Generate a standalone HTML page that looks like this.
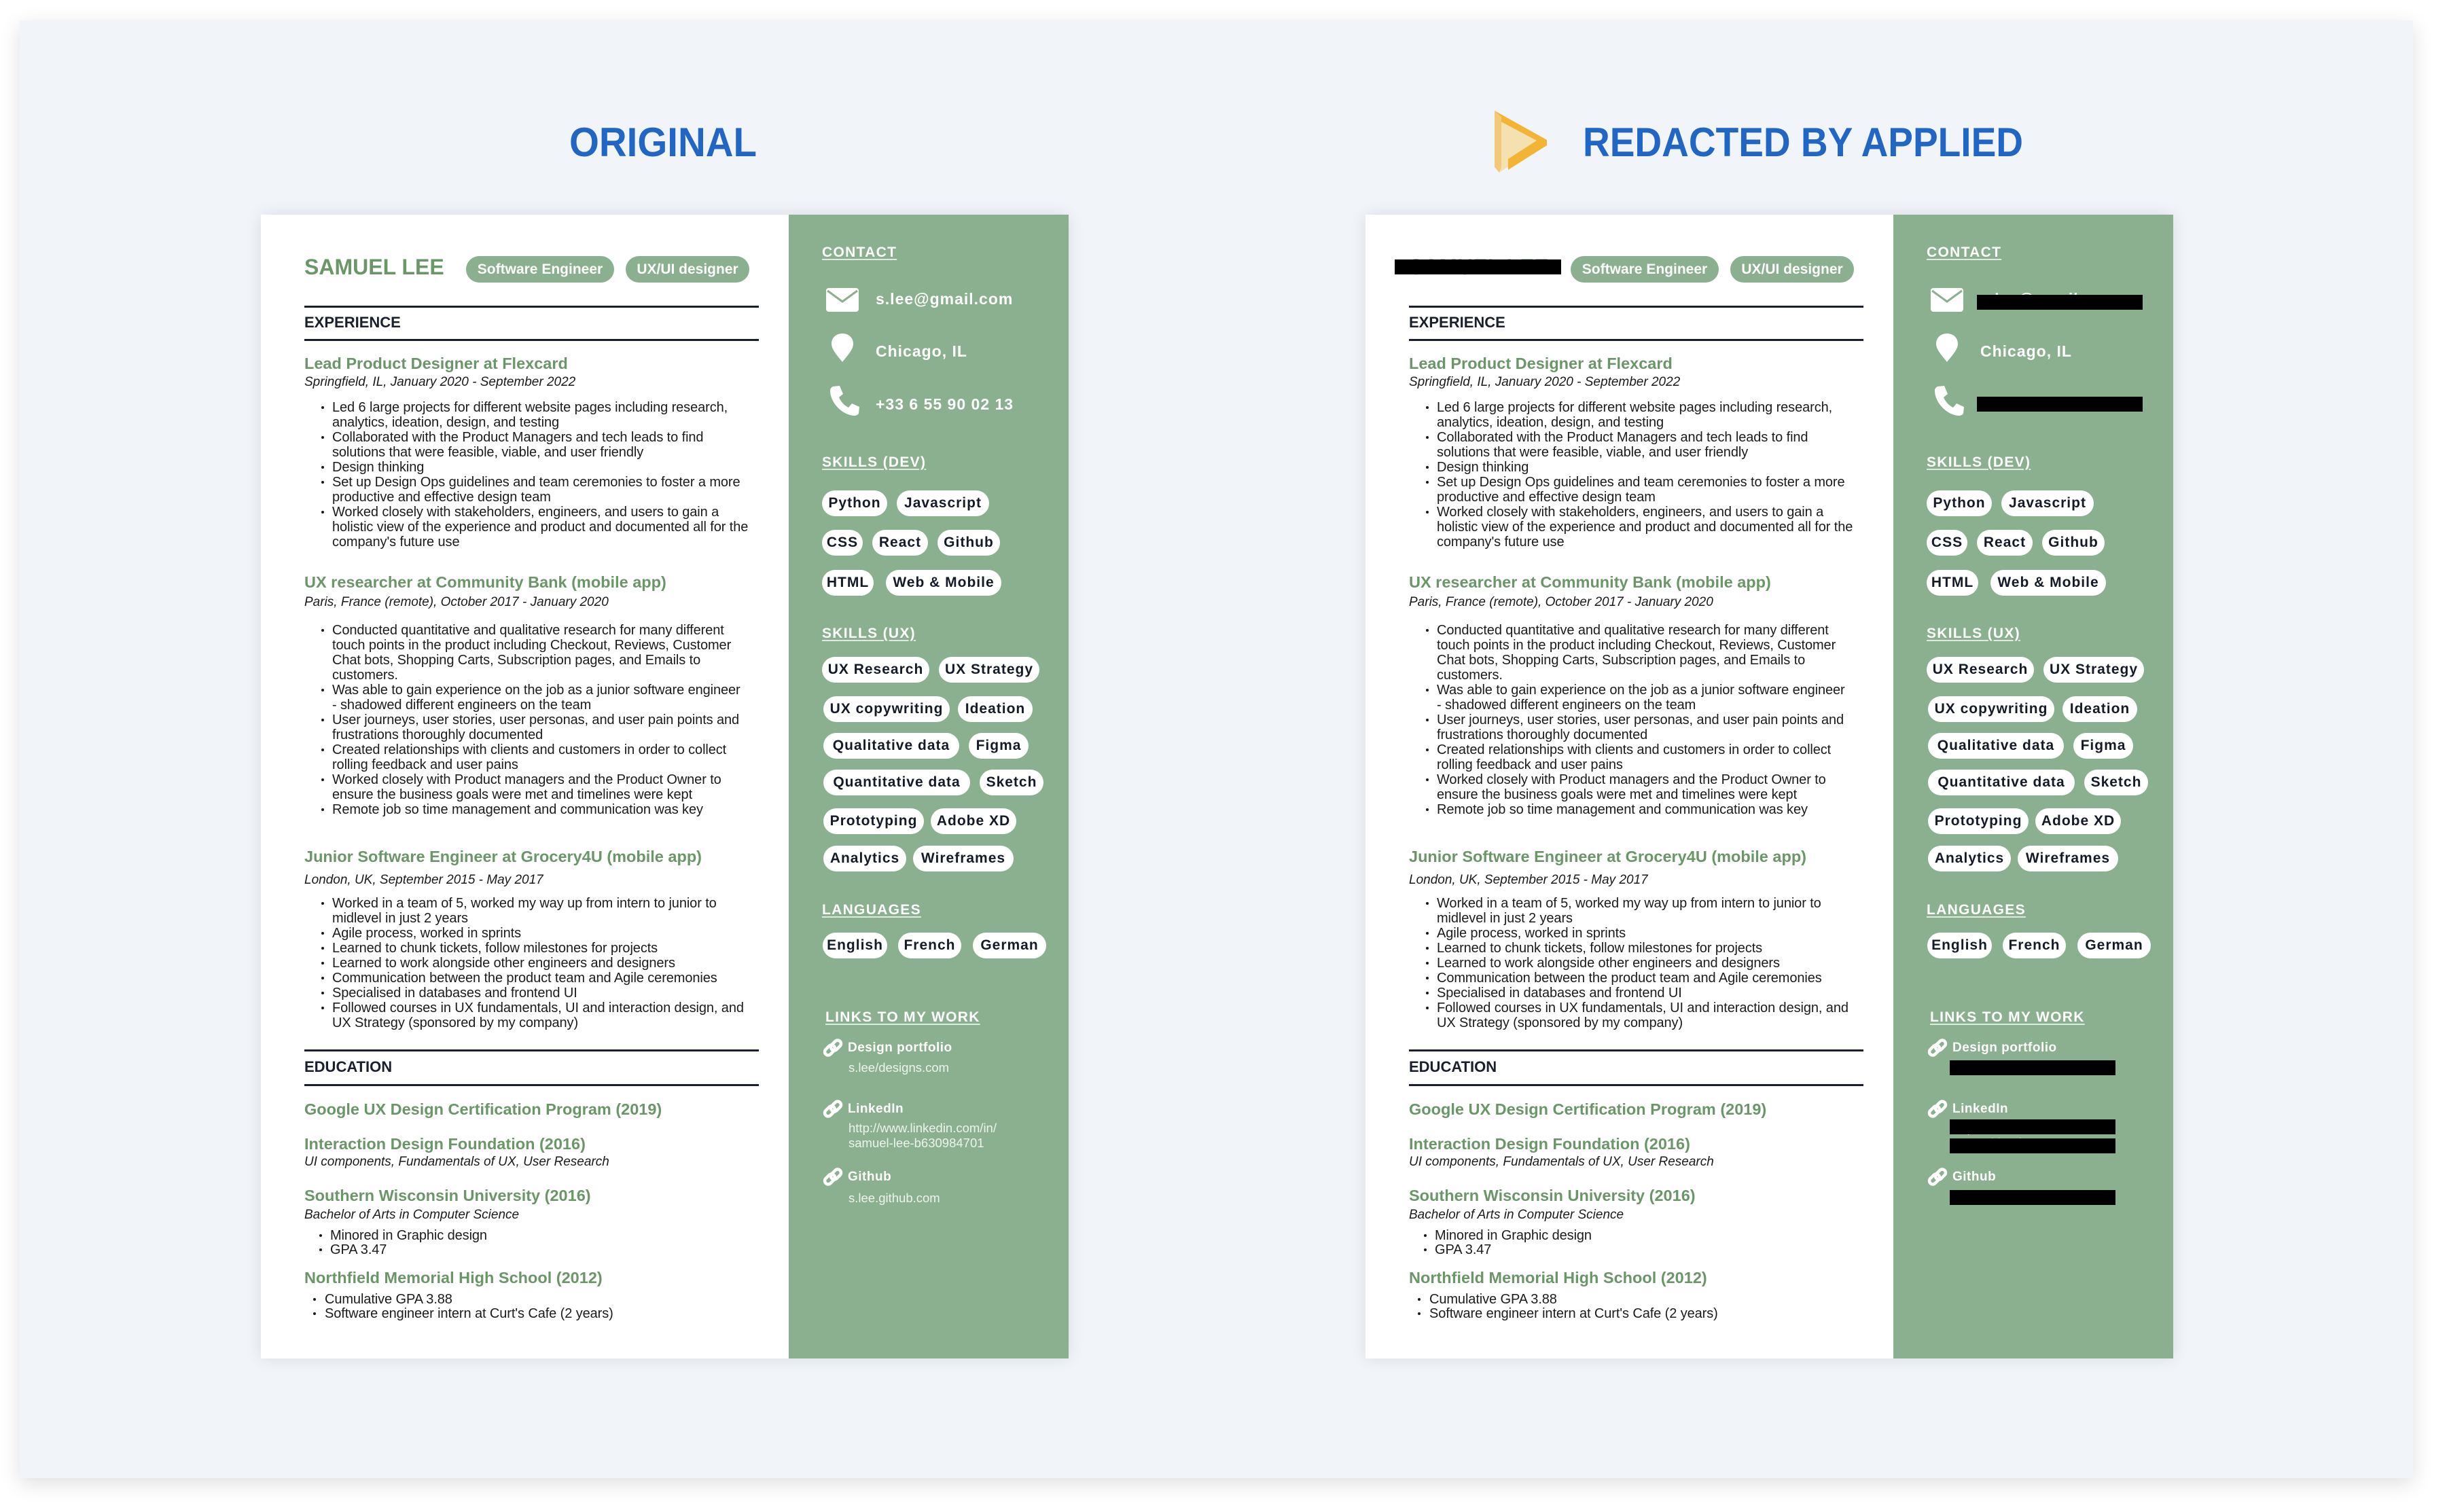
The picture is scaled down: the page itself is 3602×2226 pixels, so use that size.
<!DOCTYPE html>
<html><head><meta charset="utf-8">
<style>
*{margin:0;padding:0;box-sizing:border-box}
body{width:3602px;height:2226px;background:#fff;position:relative;overflow:hidden;font-family:"Liberation Sans",Arial,sans-serif}
.panel{position:absolute;left:29px;top:30px;width:3523px;height:2146px;background:#f1f4f9;box-shadow:0 8px 28px rgba(0,0,0,0.13)}
.res{position:absolute;top:316px;width:1189px;height:1684px;background:#fff;box-shadow:0 0 22px rgba(0,0,0,0.10)}
.side{position:absolute;left:777px;top:0;width:412px;height:1684px;background:#8bb08f}
.a{position:absolute;white-space:nowrap}
.l{position:absolute;white-space:nowrap;height:22px;line-height:22px;font-size:20px;color:#1b1b1b;letter-spacing:-0.1px}
.t{position:absolute;white-space:nowrap;height:30px;line-height:30px;font-size:23.5px;font-weight:bold;color:#6a9668}
.d{position:absolute;white-space:nowrap;height:22px;line-height:22px;font-size:19px;font-style:italic;color:#1b1b1b}
.hr{position:absolute;left:64px;width:669px;height:3px;background:#1a1f2e}
.h{position:absolute;left:64px;height:26px;line-height:26px;font-size:22px;font-weight:bold;color:#1a1f2e}
.dot{position:absolute;width:4px;height:4px;border-radius:50%;background:#1b1b1b}
.sh{position:absolute;height:26px;line-height:26px;font-size:21px;font-weight:bold;color:#fff;letter-spacing:1.3px;text-decoration:underline;text-decoration-thickness:2px;text-underline-offset:3px;text-decoration-color:#dfe9df}
.p{position:absolute;height:38px;line-height:38px;border-radius:19px;background:#fff;color:#141a28;font-size:21px;font-weight:bold;text-align:center;letter-spacing:1px;white-space:nowrap}
.gp{position:absolute;top:61px;height:39px;line-height:39px;border-radius:20px;background:#8bb08f;color:#fff;font-size:21px;font-weight:bold;text-align:center;white-space:nowrap}
.ct{position:absolute;left:905px;height:30px;line-height:30px;font-size:23px;font-weight:bold;color:#fff;letter-spacing:1px}
.lk{position:absolute;left:864px;height:24px;line-height:24px;font-size:19px;font-weight:bold;color:#fff;letter-spacing:0.5px}
.u{position:absolute;left:865px;height:22px;line-height:22px;font-size:18.5px;color:#eef3ee}
.bar{position:absolute;background:#000}
</style></head><body>
<div class="panel"></div>

<svg class="a" style="left:0;top:0" width="3602" height="300">
<text x="838" y="230" font-family="Liberation Sans,Arial,sans-serif" font-weight="bold" font-size="60" fill="#2166c4" textLength="276" lengthAdjust="spacingAndGlyphs">ORIGINAL</text>
<text x="2330" y="230" font-family="Liberation Sans,Arial,sans-serif" font-weight="bold" font-size="60" fill="#2166c4" textLength="648" lengthAdjust="spacingAndGlyphs">REDACTED BY APPLIED</text>
<polygon points="2200,163 2277,206 2207,254 2200,246" fill="#f5e0b0"/>
<polygon points="2200,163 2277,206 2277,214 2220,250 2220,234 2262,207 2200,174" fill="#f1b434"/>
<polygon points="2200,163 2210,172 2210,246 2207,254 2200,246" fill="#f2c97a"/>
</svg>

<div class="res" id="r1" style="left:384px">
 <div class="a" style="left:64px;top:60px;height:34px;line-height:34px;font-size:32px;font-weight:bold;color:#6a9668">SAMUEL LEE</div>
 <div class="gp" style="left:302px;width:218px">Software Engineer</div>
 <div class="gp" style="left:537px;width:182px">UX/UI designer</div>
 <div class="hr" style="top:134px"></div>
 <div class="h" style="top:146px">EXPERIENCE</div>
 <div class="hr" style="top:183px"></div>

 <div class="t" style="left:64px;top:204px">Lead Product Designer at Flexcard</div>
 <div class="d" style="left:64px;top:236px">Springfield, IL, January 2020 - September 2022</div>
 <div class="dot" style="left:89px;top:282px"></div><div class="l" style="left:105px;top:273px">Led 6 large projects for different website pages including research,</div>
 <div class="l" style="left:105px;top:295px">analytics, ideation, design, and testing</div>
 <div class="dot" style="left:89px;top:326px"></div><div class="l" style="left:105px;top:317px">Collaborated with the Product Managers and tech leads to find</div>
 <div class="l" style="left:105px;top:339px">solutions that were feasible, viable, and user friendly</div>
 <div class="dot" style="left:89px;top:370px"></div><div class="l" style="left:105px;top:361px">Design thinking</div>
 <div class="dot" style="left:89px;top:392px"></div><div class="l" style="left:105px;top:383px">Set up Design Ops guidelines and team ceremonies to foster a more</div>
 <div class="l" style="left:105px;top:405px">productive and effective design team</div>
 <div class="dot" style="left:89px;top:436px"></div><div class="l" style="left:105px;top:427px">Worked closely with stakeholders, engineers, and users to gain a</div>
 <div class="l" style="left:105px;top:449px">holistic view of the experience and product and documented all for the</div>
 <div class="l" style="left:105px;top:471px">company's future use</div>

 <div class="t" style="left:64px;top:526px">UX researcher at Community Bank (mobile app)</div>
 <div class="d" style="left:64px;top:560px">Paris, France (remote), October 2017 - January 2020</div>
 <div class="dot" style="left:89px;top:610px"></div><div class="l" style="left:105px;top:601px">Conducted quantitative and qualitative research for many different</div>
 <div class="l" style="left:105px;top:623px">touch points in the product including Checkout, Reviews, Customer</div>
 <div class="l" style="left:105px;top:645px">Chat bots, Shopping Carts, Subscription pages, and Emails to</div>
 <div class="l" style="left:105px;top:667px">customers.</div>
 <div class="dot" style="left:89px;top:698px"></div><div class="l" style="left:105px;top:689px">Was able to gain experience on the job as a junior software engineer</div>
 <div class="l" style="left:105px;top:711px">- shadowed different engineers on the team</div>
 <div class="dot" style="left:89px;top:742px"></div><div class="l" style="left:105px;top:733px">User journeys, user stories, user personas, and user pain points and</div>
 <div class="l" style="left:105px;top:755px">frustrations thoroughly documented</div>
 <div class="dot" style="left:89px;top:786px"></div><div class="l" style="left:105px;top:777px">Created relationships with clients and customers in order to collect</div>
 <div class="l" style="left:105px;top:799px">rolling feedback and user pains</div>
 <div class="dot" style="left:89px;top:830px"></div><div class="l" style="left:105px;top:821px">Worked closely with Product managers and the Product Owner to</div>
 <div class="l" style="left:105px;top:843px">ensure the business goals were met and timelines were kept</div>
 <div class="dot" style="left:89px;top:874px"></div><div class="l" style="left:105px;top:865px">Remote job so time management and communication was key</div>

 <div class="t" style="left:64px;top:930px">Junior Software Engineer at Grocery4U (mobile app)</div>
 <div class="d" style="left:64px;top:969px">London, UK, September 2015 - May 2017</div>
 <div class="dot" style="left:89px;top:1012px"></div><div class="l" style="left:105px;top:1003px">Worked in a team of 5, worked my way up from intern to junior to</div>
 <div class="l" style="left:105px;top:1025px">midlevel in just 2 years</div>
 <div class="dot" style="left:89px;top:1056px"></div><div class="l" style="left:105px;top:1047px">Agile process, worked in sprints</div>
 <div class="dot" style="left:89px;top:1078px"></div><div class="l" style="left:105px;top:1069px">Learned to chunk tickets, follow milestones for projects</div>
 <div class="dot" style="left:89px;top:1100px"></div><div class="l" style="left:105px;top:1091px">Learned to work alongside other engineers and designers</div>
 <div class="dot" style="left:89px;top:1122px"></div><div class="l" style="left:105px;top:1113px">Communication between the product team and Agile ceremonies</div>
 <div class="dot" style="left:89px;top:1144px"></div><div class="l" style="left:105px;top:1135px">Specialised in databases and frontend UI</div>
 <div class="dot" style="left:89px;top:1166px"></div><div class="l" style="left:105px;top:1157px">Followed courses in UX fundamentals, UI and interaction design, and</div>
 <div class="l" style="left:105px;top:1179px">UX Strategy (sponsored by my company)</div>

 <div class="hr" style="top:1229px"></div>
 <div class="h" style="top:1242px">EDUCATION</div>
 <div class="hr" style="top:1280px"></div>
 <div class="t" style="left:64px;top:1302px">Google UX Design Certification Program (2019)</div>
 <div class="t" style="left:64px;top:1353px">Interaction Design Foundation (2016)</div>
 <div class="d" style="left:64px;top:1384px">UI components, Fundamentals of UX, User Research</div>
 <div class="t" style="left:64px;top:1429px">Southern Wisconsin University (2016)</div>
 <div class="d" style="left:64px;top:1462px">Bachelor of Arts in Computer Science</div>
 <div class="dot" style="left:86px;top:1501px"></div><div class="l" style="left:102px;top:1492px">Minored in Graphic design</div>
 <div class="dot" style="left:86px;top:1522px"></div><div class="l" style="left:102px;top:1513px">GPA 3.47</div>
 <div class="t" style="left:64px;top:1550px">Northfield Memorial High School (2012)</div>
 <div class="dot" style="left:77px;top:1595px"></div><div class="l" style="left:94px;top:1586px">Cumulative GPA 3.88</div>
 <div class="dot" style="left:77px;top:1616px"></div><div class="l" style="left:94px;top:1607px">Software engineer intern at Curt's Cafe (2 years)</div>

 <div class="side"></div>
 <div class="sh" style="left:826px;top:43px">CONTACT</div>
 <svg class="a" style="left:830px;top:106px" width="52" height="40"><rect x="2" y="2" width="48" height="35" rx="4" fill="#fff"/><polyline points="4,6 26,22 48,6" fill="none" stroke="#8bb08f" stroke-width="3"/></svg>
 <div class="ct" style="top:109px">s.lee@gmail.com</div>
 <svg class="a" style="left:838px;top:173px" width="36" height="46"><path d="M18 2C8 2 2 9 2 17c0 9 9 18 16 27c7-9 16-18 16-27C34 9 28 2 18 2z" fill="#fff"/></svg>
 <div class="ct" style="top:186px">Chicago, IL</div>
 <svg class="a" style="left:836px;top:250px" width="46" height="46"><path d="M6 3l10-1 5 12-6 5c3 7 8 12 14 15l5-6 11 5-1 10c-2 2-4 3-7 3C20 45 2 27 2 9c0-3 2-5 4-6z" fill="#fff"/></svg>
 <div class="ct" style="top:264px">+33 6 55 90 02 13</div>

 <div class="sh" style="left:826px;top:352px">SKILLS (DEV)</div>
 <div class="p" style="left:826px;top:406px;width:96px">Python</div>
 <div class="p" style="left:936px;top:406px;width:136px">Javascript</div>
 <div class="p" style="left:826px;top:464px;width:60px">CSS</div>
 <div class="p" style="left:900px;top:464px;width:82px">React</div>
 <div class="p" style="left:996px;top:464px;width:92px">Github</div>
 <div class="p" style="left:826px;top:523px;width:76px">HTML</div>
 <div class="p" style="left:920px;top:523px;width:170px">Web &amp; Mobile</div>

 <div class="sh" style="left:826px;top:604px">SKILLS (UX)</div>
 <div class="p" style="left:826px;top:651px;width:158px">UX Research</div>
 <div class="p" style="left:998px;top:651px;width:148px">UX Strategy</div>
 <div class="p" style="left:828px;top:709px;width:186px">UX copywriting</div>
 <div class="p" style="left:1026px;top:709px;width:110px">Ideation</div>
 <div class="p" style="left:828px;top:763px;width:200px">Qualitative data</div>
 <div class="p" style="left:1042px;top:763px;width:88px">Figma</div>
 <div class="p" style="left:828px;top:817px;width:216px">Quantitative data</div>
 <div class="p" style="left:1058px;top:817px;width:94px">Sketch</div>
 <div class="p" style="left:828px;top:874px;width:148px">Prototyping</div>
 <div class="p" style="left:986px;top:874px;width:126px">Adobe XD</div>
 <div class="p" style="left:828px;top:929px;width:122px">Analytics</div>
 <div class="p" style="left:960px;top:929px;width:148px">Wireframes</div>

 <div class="sh" style="left:826px;top:1011px">LANGUAGES</div>
 <div class="p" style="left:827px;top:1057px;width:95px">English</div>
 <div class="p" style="left:938px;top:1057px;width:93px">French</div>
 <div class="p" style="left:1048px;top:1057px;width:108px">German</div>

 <div class="sh" style="left:831px;top:1169px">LINKS TO MY WORK</div>
 <svg class="a" style="left:826px;top:1213px" width="32" height="30"><g fill="none" stroke="#fff" stroke-width="4.5"><rect x="3" y="12" width="17" height="10" rx="5" transform="rotate(-45 11.5 17)"/><rect x="12" y="5" width="17" height="10" rx="5" transform="rotate(-45 20.5 10)"/></g></svg>
 <div class="lk" style="top:1215px">Design portfolio</div>
 <div class="u" style="top:1245px">s.lee/designs.com</div>
 <svg class="a" style="left:826px;top:1303px" width="32" height="30"><g fill="none" stroke="#fff" stroke-width="4.5"><rect x="3" y="12" width="17" height="10" rx="5" transform="rotate(-45 11.5 17)"/><rect x="12" y="5" width="17" height="10" rx="5" transform="rotate(-45 20.5 10)"/></g></svg>
 <div class="lk" style="top:1305px">LinkedIn</div>
 <div class="u" style="top:1334px">http://www.linkedin.com/in/</div>
 <div class="u" style="top:1356px">samuel-lee-b630984701</div>
 <svg class="a" style="left:826px;top:1403px" width="32" height="30"><g fill="none" stroke="#fff" stroke-width="4.5"><rect x="3" y="12" width="17" height="10" rx="5" transform="rotate(-45 11.5 17)"/><rect x="12" y="5" width="17" height="10" rx="5" transform="rotate(-45 20.5 10)"/></g></svg>
 <div class="lk" style="top:1405px">Github</div>
 <div class="u" style="top:1437px">s.lee.github.com</div>
</div>

<script>
(function(){
 var r1=document.getElementById('r1');
 var r2=r1.cloneNode(true);
 r2.id='r2';
 r2.style.left='2010px';
 var bars=[[43,66,245,22],[900,118,244,22],[900,268,244,22],[860,1245,244,22],[860,1332,244,22],[860,1360,244,22],[860,1436,244,22]];
 bars.forEach(function(b){var d=document.createElement('div');d.className='bar';d.style.left=b[0]+'px';d.style.top=b[1]+'px';d.style.width=b[2]+'px';d.style.height=b[3]+'px';r2.appendChild(d);});
 document.body.appendChild(r2);
})();
</script>
</body></html>
